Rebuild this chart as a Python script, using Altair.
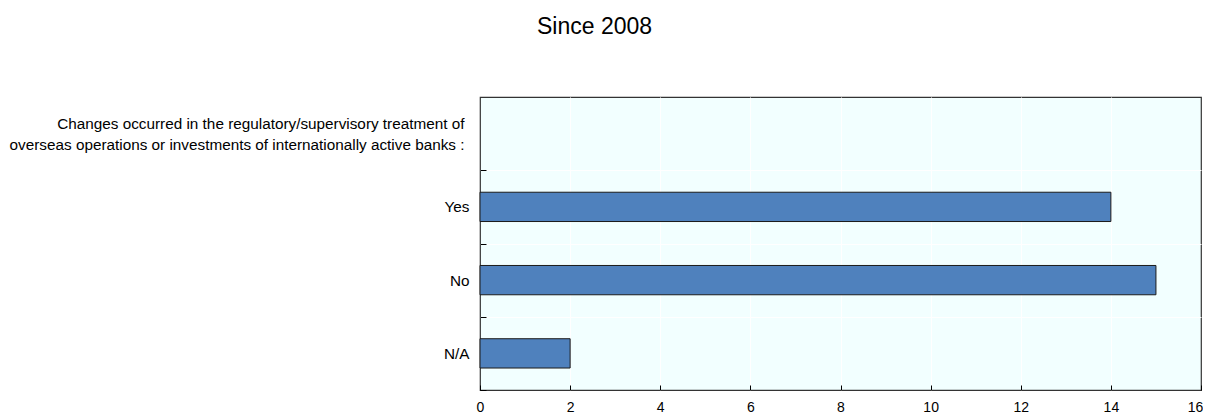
import altair as alt
import pandas as pd

categories = [
    "Changes occurred in the regulatory/supervisory treatment of|overseas operations or investments of internationally active banks :",
    "Yes",
    "No",
    "N/A",
]
values = [None, 14, 15, 2]
x_ticks = [0, 2, 4, 6, 8, 10, 12, 14, 16]

df = pd.DataFrame({"category": categories, "value": values})

PLOT_W = 721
PLOT_H = 293
step = PLOT_H / len(categories)
FONT = "Liberation Sans"
LINE_H = 21
HEADER_TEST = "indexof(datum.value, '|') >= 0"

chart = (
    alt.Chart(df)
    .mark_bar(color="#4F81BD", stroke="#1a1a1a", strokeWidth=1)
    .encode(
        x=alt.X(
            "value:Q",
            scale=alt.Scale(domain=[0, 16], nice=False),
            axis=alt.Axis(
                values=x_ticks,
                title=None,
                domain=False,
                offset=-5,
                tickSize=5,
                tickColor="#000000",
                grid=True,
                gridColor="#FFFFFF",
                gridOpacity={
                    "condition": {"test": "datum.value == 0 || datum.value == 16", "value": 0},
                    "value": 1,
                },
                labelFlush=False,
                labelOffset={
                    "condition": {"test": "datum.value == 16", "value": -6},
                    "value": 0,
                },
                labelFont=FONT,
                labelFontSize=14,
                labelColor="#000000",
                labelPadding=10,
            ),
        ),
        y=alt.Y(
            "category:N",
            sort=categories,
            scale=alt.Scale(domain=categories, paddingInner=0.6, paddingOuter=0.3),
            axis=alt.Axis(
                title=None,
                domain=False,
                offset=-6,
                tickSize=6,
                tickColor="#000000",
                tickOffset=step / 2,
                labelOffset={
                    "condition": {"test": HEADER_TEST, "value": -step / 2 - LINE_H / 2},
                    "value": -step / 2,
                },
                labelPadding={
                    "condition": {"test": HEADER_TEST, "value": 16},
                    "value": 11,
                },
                labelExpr="split(datum.label, '|')",
                labelLineHeight=LINE_H,
                labelLimit=800,
                grid=True,
                gridColor="#FFFFFF",
                gridOpacity={
                    "condition": {"test": "datum.value == 'N/A'", "value": 0},
                    "value": 1,
                },
                labelFont=FONT,
                labelFontSize=15.3,
                labelColor="#000000",
            ),
        ),
    )
    .properties(
        width=PLOT_W,
        height=PLOT_H,
        title=alt.TitleParams(
            text="Since 2008",
            font=FONT,
            fontSize=23,
            fontWeight="normal",
            color="#000000",
            anchor="middle",
            dx=-246,
            offset=58,
        ),
        padding={"left": 472, "top": 89, "right": 2, "bottom": 26},
        autosize="none",
        background="white",
    )
    .configure_view(fill="#F2FFFF", stroke="#333333", strokeWidth=1.2)
)

chart.save("out.html", embed_options={"renderer": "svg", "actions": False})
